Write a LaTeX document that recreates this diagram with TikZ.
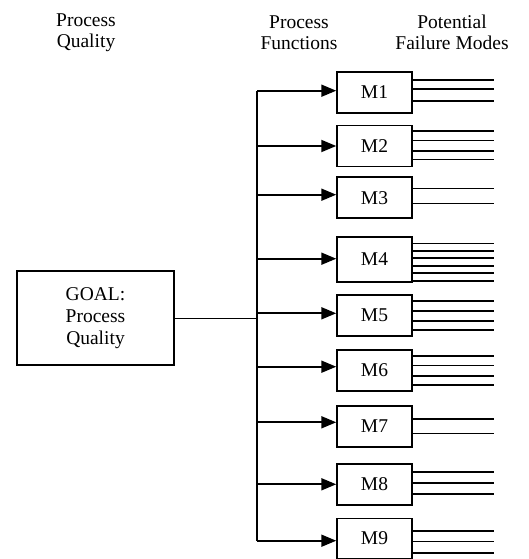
\documentclass[tikz,border=0pt]{standalone}
\usepackage{fontspec}
\setmainfont{Liberation Serif}
\usetikzlibrary{arrows.meta}
\begin{document}
\begin{tikzpicture}[x=1pt,y=-1pt,
  txt/.style={font=\fontsize{19.5}{20.5}\selectfont,align=center,inner sep=0pt},
  mbox/.style={draw,line width=1.5pt,minimum width=75pt,minimum height=41pt,inner sep=0pt,font=\fontsize{19.5}{20.5}\selectfont},
  arr/.style={line width=1.9pt,-{Triangle[length=15pt,width=12pt]}},
  fm/.style={line width=1.6pt}]
\useasboundingbox (0,0) rectangle (529,559);
% headers
\node[txt] (h1) at (86,32.5) {Process\\Quality};
\node[txt] (h2) at (299,32.5) {Process\\Functions};
\node[txt] (h3) at (452,32.5) {Potential\\Failure Modes};
% goal
\node[draw,line width=1.4pt,minimum width=157pt,minimum height=94pt,txt,font=\fontsize{19.5}{22}\selectfont] (G) at (95.5,318) {GOAL:\\Process\\Quality};
% M boxes
\node[mbox] (M1) at (374.5,92.5) {M1};
\node[mbox] (M2) at (374.5,146) {M2};
\node[mbox] (M3) at (374.5,197.7) {M3};
\node[mbox,minimum height=45pt] (M4) at (374.5,259.3) {M4};
\node[mbox] (M5) at (374.5,315.3) {M5};
\node[mbox] (M6) at (374.5,370.3) {M6};
\node[mbox] (M7) at (374.5,426.3) {M7};
\node[mbox] (M8) at (374.5,484.3) {M8};
\node[mbox,minimum height=40pt] (M9) at (374.5,538.3) {M9};
% trunk
\coordinate (t1) at (257,90.7);
\coordinate (t2) at (257,146);
\coordinate (t3) at (257,194.7);
\coordinate (t4) at (257,258.7);
\coordinate (t5) at (257,313.3);
\coordinate (t6) at (257,366.7);
\coordinate (t7) at (257,422.3);
\coordinate (t8) at (257,484.3);
\coordinate (t9) at (257,540.7);
\draw[line width=1.9pt] (t1) -- (t9);
\draw[line width=1pt] (G.east) -- (G.east -| t1);
\foreach \i in {1,...,9}{
  \draw[arr] (t\i) -- (t\i -| M\i.west);
}
% failure mode lines
\foreach \m/\ys in {1/{80,89.3,101},2/{131,140.3,150.7,159.3},3/{188.3,203.3},
  4/{243.3,250.7,258,265.7,272.7,280.7},5/{301,310.7,320.7,330},6/{356,365.3,376,385},
  7/{419,433.3},8/{471.7,482.7,494},9/{530.7,541.3,552.7}}{
  \foreach \y in \ys {
    \draw[fm] (M\m.east |- 0,\y) -- (494,\y);
  }
}
\end{tikzpicture}
\end{document}
